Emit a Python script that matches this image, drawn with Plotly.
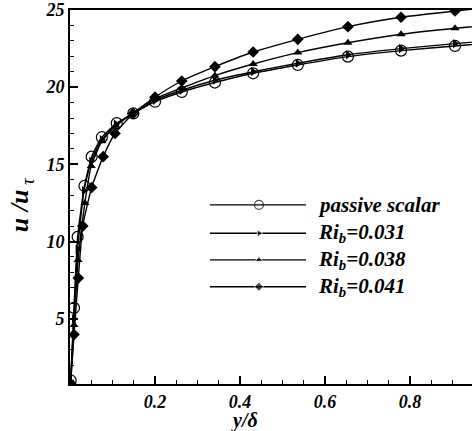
import plotly.graph_objects as go

# ---- data ----
x_passive = [0.0015, 0.0094, 0.018, 0.034, 0.051, 0.075, 0.110, 0.149, 0.200, 0.263, 0.341, 0.431, 0.536, 0.654, 0.779, 0.906, 1.00]
u_passive = [1.00, 5.70, 10.30, 13.60, 15.50, 16.76, 17.67, 18.30, 19.06, 19.69, 20.30, 20.90, 21.44, 21.98, 22.37, 22.67, 22.90]

x_ri031 = [0.0015, 0.0092, 0.018, 0.033, 0.050, 0.075, 0.108, 0.148, 0.200, 0.263, 0.341, 0.431, 0.536, 0.654, 0.779, 0.906, 1.00]
u_ri031 = [0.90, 5.00, 9.50, 13.30, 15.20, 16.60, 17.60, 18.30, 19.15, 19.80, 20.45, 21.00, 21.55, 22.10, 22.50, 22.82, 23.05]

x_ri038 = [0.0015, 0.0095, 0.019, 0.035, 0.050, 0.075, 0.108, 0.148, 0.200, 0.263, 0.341, 0.431, 0.536, 0.654, 0.779, 0.906, 1.00]
u_ri038 = [0.85, 4.60, 8.80, 12.50, 14.90, 16.50, 17.50, 18.30, 19.25, 19.95, 20.75, 21.50, 22.24, 22.88, 23.43, 23.82, 24.05]

x_ri041 = [0.0015, 0.0094, 0.0195, 0.030, 0.051, 0.078, 0.106, 0.149, 0.200, 0.263, 0.341, 0.431, 0.536, 0.654, 0.779, 0.906, 1.00]
u_ri041 = [0.80, 3.97, 7.63, 11.00, 13.50, 15.50, 17.00, 18.30, 19.35, 20.40, 21.33, 22.28, 23.10, 23.92, 24.53, 24.94, 25.20]

labels = ["passive scalar", "Ri<sub>b</sub>=0.031", "Ri<sub>b</sub>=0.038", "Ri<sub>b</sub>=0.041"]
x_ticks = [0.2, 0.4, 0.6, 0.8]
y_ticks = [5, 10, 15, 20, 25]

series = [
    (x_passive, u_passive, dict(symbol="circle-open", size=11, color="black", line=dict(width=1.2, color="black"))),
    (x_ri031, u_ri031, dict(symbol="triangle-right", size=8, color="black")),
    (x_ri038, u_ri038, dict(symbol="triangle-up", size=8, color="black")),
    (x_ri041, u_ri041, dict(symbol="diamond", size=9, color="black")),
]

FONT = "Liberation Serif"
fig = go.Figure()
for xs, ys, mk in series:
    fig.add_trace(go.Scatter(x=xs, y=ys, mode="lines+markers",
                             line=dict(color="black", width=1.4, shape="spline", smoothing=0.5),
                             marker=mk, showlegend=False, cliponaxis=True))

# custom legend drawn on a hidden overlay axis
leg_rows = [0.479, 0.403, 0.332, 0.260]
leg_sizes = [9, 7, 7, 7]
for (xs, ys, mk), yr, lab, ms in zip(series, leg_rows, labels, leg_sizes):
    m = dict(mk)
    m["size"] = [0, ms, 0]
    fig.add_trace(go.Scatter(x=[0.348, 0.470, 0.587], y=[yr, yr, yr], mode="lines+markers",
                             line=dict(color="black", width=1.4), marker=m,
                             xaxis="x2", yaxis="y2", showlegend=False, hoverinfo="skip"))
    fig.add_annotation(x=0.612, y=yr, xref="x2", yref="y2", text="<b><i>" + lab + "</i></b>",
                       showarrow=False, xanchor="left", yanchor="middle",
                       font=dict(family=FONT, size=21, color="black"))

fig.add_annotation(x=0.41, y=-0.062, xref="x", yref="paper", text="<b><i>y/δ</i></b>",
                   showarrow=False, xanchor="center", yanchor="top",
                   font=dict(family=FONT, size=20, color="black"))
fig.add_annotation(x=-0.12, y=0.48, xref="paper", yref="paper",
                   text="<b><i>u /u</i></b><i><sub> τ</sub></i>", textangle=-90,
                   showarrow=False, xanchor="center", yanchor="middle",
                   font=dict(family=FONT, size=26, color="black"))

tickfont = dict(family=FONT, size=18, color="black", weight="bold", style="italic")
fig.update_layout(
    width=472, height=431,
    margin=dict(l=70, r=0, t=10, b=47),
    paper_bgcolor="white", plot_bgcolor="white",
    font=dict(family=FONT),
    xaxis=dict(range=[0, 0.946], tickvals=x_ticks, ticktext=[str(v) for v in x_ticks],
               ticks="inside", ticklen=8, tickwidth=1.5, tickcolor="black",
               showline=True, linecolor="black", linewidth=2, mirror=True,
               showgrid=False, zeroline=False, tickfont=tickfont,
               minor=dict(tick0=0, dtick=0.05, ticks="inside", ticklen=4, tickwidth=1, tickcolor="black", showgrid=False)),
    yaxis=dict(range=[0.77, 25], tickvals=y_ticks, ticktext=[str(v) for v in y_ticks],
               ticks="inside", ticklen=8, tickwidth=1.5, tickcolor="black",
               showline=True, linecolor="black", linewidth=2, mirror=False,
               showgrid=False, zeroline=False, tickfont=tickfont,
               minor=dict(tick0=0, dtick=1, ticks="inside", ticklen=4, tickwidth=1, tickcolor="black", showgrid=False)),
    xaxis2=dict(range=[0, 1], overlaying="x", visible=False, domain=[0, 1]),
    yaxis2=dict(range=[0, 1], overlaying="y", visible=False),
)
fig.write_html("out.html")
